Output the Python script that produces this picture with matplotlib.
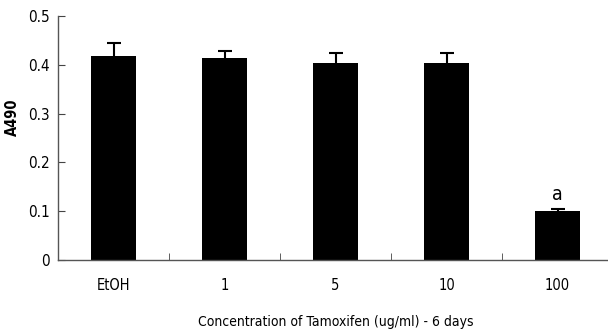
import numpy as np
import matplotlib
matplotlib.use("Agg")
import matplotlib.pyplot as plt

# values
groups = ["EtOH", "1", "5", "10", "100"]
means = [0.418, 0.414, 0.404, 0.404, 0.100]
errors = [0.026, 0.014, 0.020, 0.020, 0.005]
yticks = [0, 0.1, 0.2, 0.3, 0.4, 0.5]
ytick_labels = ["0", "0.1", "0.2", "0.3", "0.4", "0.5"]

plt.rcParams['font.family'] = ['DejaVu Sans']
plt.rcParams['font.stretch'] = 'condensed'

fig = plt.figure(figsize=(6.08, 3.29), dpi=100)
# right edge of the axis runs slightly past the figure, as in the original
ax = fig.add_axes([58 / 608., 69 / 329., 555 / 608., 244 / 329.])

x = np.arange(len(groups))
ax.bar(x, means, width=0.41, color='black', zorder=2)
eb = ax.errorbar(x, means, yerr=[np.zeros(len(errors)), errors], fmt='none',
                 ecolor='black', elinewidth=1.5, capsize=5, capthick=1.5,
                 zorder=3)
# only the upper half of the error bars is shown
eb[1][0].set_visible(False)
ax.text(x[-1], means[-1] + 0.015, "a", ha='center', va='bottom', fontsize=14)

ax.set_xlim(-0.5, len(groups) - 0.5)
ax.set_ylim(0, 0.5)
ax.set_yticks(yticks)
ax.set_yticklabels(ytick_labels, fontsize=11)
ax.set_xticks(x)
ax.set_xticklabels(groups, fontsize=10.5)
ax.set_xticks(x[:-1] + 0.5, minor=True)
ax.tick_params(axis='x', which='major', length=0, pad=13)
ax.tick_params(axis='x', which='minor', direction='in', length=5, color='#444444')
ax.tick_params(axis='y', direction='in', length=5, color='#444444', pad=6)

for side in ['top', 'right']:
    ax.spines[side].set_visible(False)
for side in ['left', 'bottom']:
    ax.spines[side].set_color('#555555')
    ax.spines[side].set_linewidth(1.0)

ax.set_ylabel("A490", fontsize=10.5, fontweight='bold')
ax.yaxis.set_label_coords(-0.068, 0.586)
ax.set_xlabel("Concentration of Tamoxifen (ug/ml) - 6 days", fontsize=10,
              labelpad=16)

plt.savefig("out.png", dpi=100)
